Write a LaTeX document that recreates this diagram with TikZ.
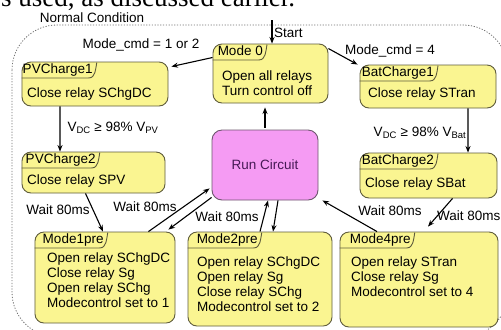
\documentclass[tikz,border=0pt]{standalone}
\usepackage{fontspec}
\setmainfont{Liberation Sans}
\newfontfamily\proseserif{Liberation Serif}
\usetikzlibrary{arrows.meta,calc}
\definecolor{stateyellow}{RGB}{250,245,145}
\definecolor{stateedge}{RGB}{95,92,60}
\definecolor{runpink}{RGB}{245,155,243}
\definecolor{runedge}{RGB}{110,85,110}
\definecolor{runtext}{RGB}{70,25,85}
\newcommand{\txt}{\fontsize{13.5bp}{15bp}\selectfont}
\newcommand{\nametab}[2]{\draw[tabline] (#1.west |- #2.south) -- ([xshift=-5bp]#2.south east) to[out=0,in=-100] ([xshift=3bp]#2.north east);}

\begin{document}
\begin{tikzpicture}[
    x=1bp, y=-1bp,
    state/.style={draw=stateedge, fill=stateyellow, rounded corners=9bp, line width=0.9bp, inner sep=0pt},
    runbox/.style={draw=runedge, fill=runpink, rounded corners=10bp, line width=0.9bp, inner sep=0pt, font=\txt, text=runtext},
    title/.style={anchor=north west, inner xsep=1bp, inner ysep=1bp, text height=10bp, text depth=3bp, font=\txt},
    body/.style={anchor=west, align=left, inner sep=0pt, font=\txt},
    lbl/.style={font=\txt, inner sep=1bp},
    arrow/.style={-{Stealth[length=6.5bp,width=5bp]}, line width=1.1bp, black},
    tabline/.style={draw=stateedge, line width=0.9bp},
    boundary/.style={draw=black!55, dash pattern=on 1.2bp off 1.6bp, line width=0.8bp},
]
\useasboundingbox[fill=white] (0,0) rectangle (501,329);

% text of the page above
\node[anchor=base west, inner sep=0pt, text depth=0bp, font=\proseserif\fontsize{27bp}{30bp}\selectfont] (prose) at (1,6.5) {s used, as discussed earlier.};

% Normal condition region
\draw[boundary, rounded corners=45bp] (12,25) rectangle (508,337);
\node[lbl] (normal) at (92,17.5) {Normal Condition};

% Mode 0
\node[state, minimum width=115bp, minimum height=59bp] (mode0) at (270.5,73.5) {};
\node[title] (mode0t) at ([shift={(4bp,-1bp)}]mode0.north west) {Mode 0};
\nametab{mode0}{mode0t}
\node[body] (mode0b) at (222,83.5) {Open all relays\\Turn control off};

% PV charging
\node[state, minimum width=146bp, minimum height=44bp] (pv1) at (95,84) {};
\node[title] (pv1t) at ([shift={(0bp,-1bp)}]pv1.north west) {PVCharge1};
\nametab{pv1}{pv1t}
\node[body] (pv1b) at (27,94) {Close relay SChgDC};

\node[state, minimum width=143bp, minimum height=41bp] (pv2) at (93.5,172.5) {};
\node[title] (pv2t) at ([shift={(3bp,-1bp)}]pv2.north west) {PVCharge2};
\nametab{pv2}{pv2t}
\node[body] (pv2b) at (27,181) {Close relay SPV};

% Battery charging
\node[state, minimum width=136bp, minimum height=43bp] (bat1) at (428,86.5) {};
\node[title] (bat1t) at ([shift={(1bp,-1bp)}]bat1.north west) {BatCharge1};
\nametab{bat1}{bat1t}
\node[body] (bat1b) at (368,94) {Close relay STran};

\node[state, minimum width=137bp, minimum height=45bp] (bat2) at (428.5,175.5) {};
\node[title] (bat2t) at ([shift={(1bp,-1bp)}]bat2.north west) {BatCharge2};
\nametab{bat2}{bat2t}
\node[body] (bat2b) at (365,184) {Close relay SBat};

% Run circuit
\node[runbox, minimum width=106bp, minimum height=70bp] (run) at (265,165) {Run Circuit};

% Pre modes
\node[state, minimum width=140bp, minimum height=91bp] (m1) at (105,277.5) {};
\node[title] (m1t) at ([shift={(7bp,-1bp)}]m1.north west) {Mode1pre};
\nametab{m1}{m1t}
\node[body] (m1b) at (47,280) {Open relay SChgDC\\Close relay Sg\\Open relay SChg\\Modecontrol set to 1};

\node[state, minimum width=144bp, minimum height=94bp] (m2) at (260,279) {};
\node[title] (m2t) at ([shift={(8bp,-1bp)}]m2.north west) {Mode2pre};
\nametab{m2}{m2t}
\node[body] (m2b) at (197,284.5) {Open relay SChgDC\\Open relay Sg\\Close relay SChg\\Modecontrol set to 2};

\node[state, minimum width=158bp, minimum height=95bp] (m4) at (419,279.5) {};
\node[title] (m4t) at ([shift={(9bp,-1bp)}]m4.north west) {Mode4pre};
\nametab{m4}{m4t}
\node[body] (m4b) at (351,277) {Open relay STran\\Close relay Sg\\Modecontrol set to 4};

% Arrows
\coordinate (startpt) at (272,20);
\draw[arrow] (startpt) -- ([xshift=1.5bp]mode0.north);
\node[lbl, anchor=west] (startlbl) at (273,33) {Start};

\draw[arrow] ([yshift=16bp]mode0.west) -- ([shift={(3bp,-5bp)}]pv1.north east);
\draw[arrow] ([yshift=-5bp]mode0.north east) -- ([xshift=-2bp]bat1.north west);
\draw[arrow] ([xshift=-35bp]pv1.south) -- ([xshift=-33.5bp]pv2.north);
\draw[arrow] ([xshift=40bp]bat1.south) -- ([xshift=39.5bp]bat2.north);
\draw[arrow, shorten >=4bp, shorten <=2bp] (run.north) -- (run.north |- mode0.south);

\draw[arrow] ([xshift=-8bp]pv2.south) -- ([xshift=-2bp]m1.north);
\draw[arrow] ([xshift=-27bp]m1.north east) -- ([shift={(-2bp,12bp)}]run.south west);
\draw[arrow] ([yshift=3bp]run.south west) -- ([shift={(-7bp,2bp)}]m1.north east);
\draw[arrow] (m2.north) -- ([xshift=3bp]run.south);
\draw[arrow] ([xshift=13bp]run.south) -- ([xshift=13bp]m2.north);
\draw[arrow] ([xshift=-42bp]m4.north) -- ([xshift=4bp]run.south east);
\draw[arrow] ([xshift=24bp]bat2.south) -- ([shift={(9bp,5bp)}]m4.north);

% Labels
\node[lbl] (cmd12) at (141,45) {Mode\_cmd = 1 or 2};
\node[lbl] (cmd4) at (390,51) {Mode\_cmd = 4};
\node[lbl] (vpv) at (113,128) {V\textsubscript{DC} ≥ 98\% V\textsubscript{PV}};
\node[lbl] (vbat) at (420,133) {V\textsubscript{DC} ≥ 98\% V\textsubscript{Bat}};
\node[lbl] (w1) at (58,210) {Wait 80ms};
\node[lbl] (w2) at (145,207) {Wait 80ms};
\node[lbl] (w3) at (227,217) {Wait 80ms};
\node[lbl] (w4) at (390,211) {Wait 80ms};
\node[lbl, anchor=west] (w5) at (436,216) {Wait 80ms};
\end{tikzpicture}
\end{document}
